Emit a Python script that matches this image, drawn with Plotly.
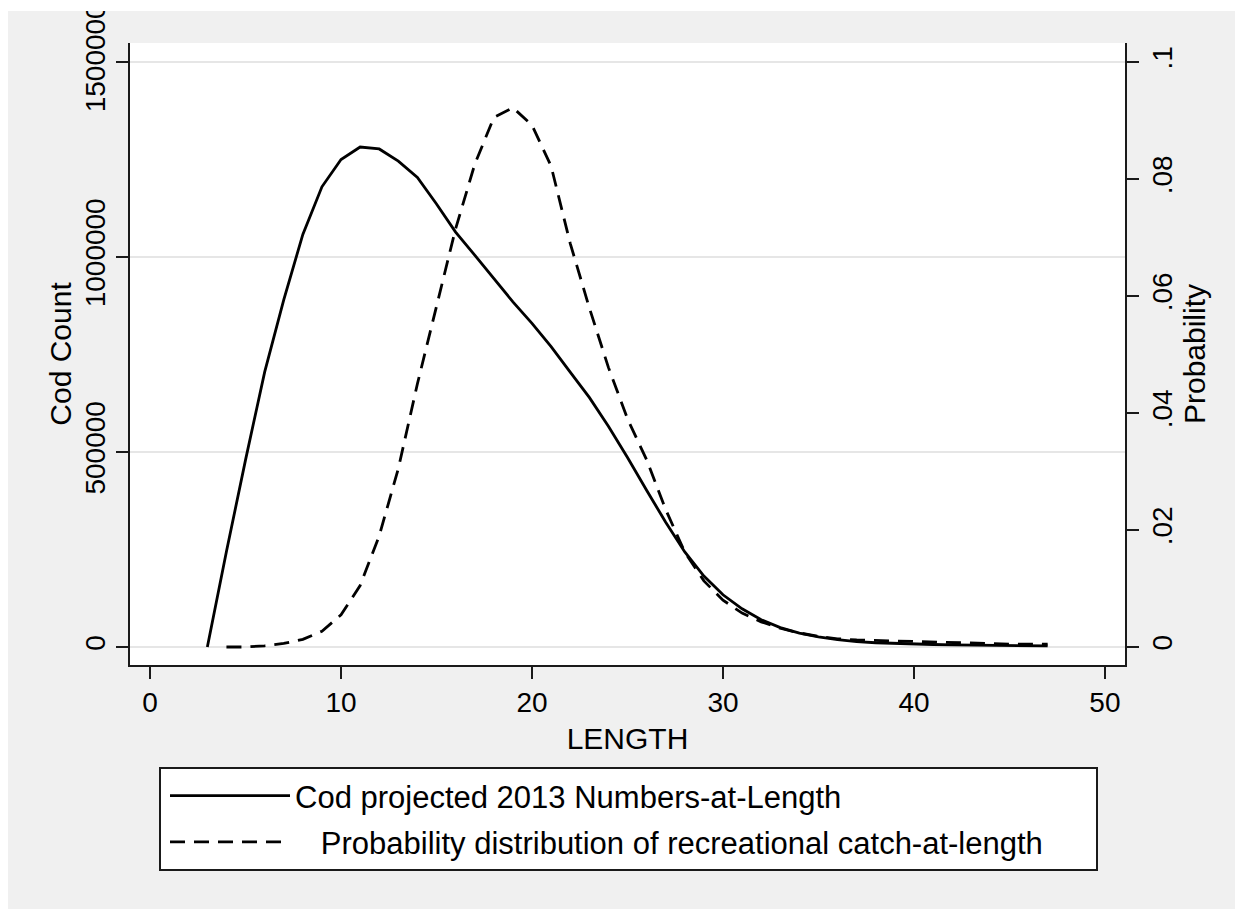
import plotly.graph_objects as go

# ---- data ----
length = list(range(3, 48))
cod_count = [0, 245000, 480000, 705000, 890000, 1058000, 1180000, 1250000, 1282000,
             1277000, 1246000, 1204000, 1136000, 1064000, 1005000, 945000, 885000,
             830000, 770000, 705000, 640000, 566000, 486000, 402000, 320000, 244000,
             182000, 134000, 98000, 70000, 50000, 36000, 26000, 19000, 14000, 11000,
             9000, 7500, 6500, 5500, 5000, 4500, 4000, 3500, 3000]

prob_length = list(range(4, 48))
prob = [0.0, 0.0, 0.0002, 0.0006, 0.0013, 0.0027, 0.0055, 0.0105, 0.019, 0.0305,
        0.045, 0.0585, 0.0715, 0.0825, 0.0905, 0.0922, 0.0892, 0.0822, 0.069, 0.058,
        0.0478, 0.039, 0.032, 0.0235, 0.0162, 0.0113, 0.0080, 0.0058, 0.0043, 0.0032,
        0.0024, 0.0018, 0.0014, 0.0012, 0.0011, 0.0010, 0.0010, 0.0009, 0.0008,
        0.0007, 0.0006, 0.0005, 0.0005, 0.0005]

x_ticks = [0, 10, 20, 30, 40, 50]
y_ticks = [0, 500000, 1000000, 1500000]
y_ticktext = ["0", "500000", "1000000", "1500000"]
y2_ticks = [0, 0.02, 0.04, 0.06, 0.08, 0.1]
y2_ticktext = ["0", ".02", ".04", ".06", ".08", ".1"]

name1 = "Cod projected 2013 Numbers-at-Length"
name2 = "\u00a0\u00a0\u00a0Probability distribution of recreational catch-at-length"

FONT = "Liberation Sans, Arial, Helvetica, sans-serif"
AX = "#1a1a1a"

fig = go.Figure()
fig.add_trace(go.Scatter(x=length, y=cod_count, mode="lines", name=name1,
                         line=dict(color="black", width=2.8), yaxis="y",
                         legendgroup="a"))
fig.add_trace(go.Scatter(x=prob_length, y=prob, mode="lines", name=name2,
                         line=dict(color="black", width=2.8, dash="15px,9px"),
                         yaxis="y2", legendgroup="b"))

L, R, T, B = 130, 110, 43, 244
W, H = 1235, 909
pw, ph = W - L - R, H - T - B


def px_x(px):
    return (px - L) / pw


def px_y(py):
    return (H - B - py) / ph


fig.update_layout(
    width=W, height=H,
    margin=dict(l=L, r=R, t=T, b=B, autoexpand=False),
    paper_bgcolor="#f0f0f0", plot_bgcolor="white",
    font=dict(family=FONT, color="black"),
    showlegend=True,
    xaxis=dict(range=[-1.05, 51.05], tickvals=x_ticks, ticks="outside", ticklen=12,
               tickwidth=1.5, tickcolor=AX, showline=True, linecolor=AX, linewidth=1.5,
               showgrid=False, zeroline=False, tickfont=dict(size=28),
               title=dict(text="LENGTH", font=dict(size=30), standoff=11)),
    yaxis=dict(range=[-46000, 1548700], tickvals=y_ticks, ticktext=y_ticktext,
               tickangle=-90, ticks="outside", ticklen=12, tickwidth=1.5, tickcolor=AX,
               showline=True, linecolor=AX, linewidth=1.5, showgrid=True,
               gridcolor="#e6e6e6", gridwidth=2, zeroline=False,
               tickfont=dict(size=28),
               title=dict(text="Cod Count", font=dict(size=30), standoff=0)),
    yaxis2=dict(overlaying="y", side="right", range=[-0.00308, 0.10325],
                tickvals=y2_ticks, ticktext=y2_ticktext, tickangle=-90,
                ticks="outside", ticklen=12, tickwidth=1.5, tickcolor=AX,
                showline=True, linecolor=AX, linewidth=1.5, showgrid=False,
                zeroline=False, tickfont=dict(size=28),
                title=dict(text="Probability", font=dict(size=30), standoff=4)),
    legend=dict(x=px_x(165), y=px_y(769), xanchor="left", yanchor="top",
                bgcolor="rgba(0,0,0,0)", borderwidth=0, font=dict(size=31),
                itemwidth=120, traceorder="grouped", tracegroupgap=3),
    shapes=[
        # legend frame
        dict(type="rect", xref="paper", yref="paper", x0=px_x(160), x1=px_x(1097),
             y0=px_y(870), y1=px_y(768), line=dict(color=AX, width=2),
             fillcolor="white", layer="below"),
        # white outer strips (top, left)
        dict(type="rect", xref="paper", yref="paper", x0=px_x(-5), x1=px_x(W + 5),
             y0=px_y(11), y1=px_y(-5), line=dict(width=0), fillcolor="white",
             layer="above"),
        dict(type="rect", xref="paper", yref="paper", x0=px_x(-5), x1=px_x(8),
             y0=px_y(H + 5), y1=px_y(-5), line=dict(width=0), fillcolor="white",
             layer="above"),
    ],
)

fig.write_html("out.html")
